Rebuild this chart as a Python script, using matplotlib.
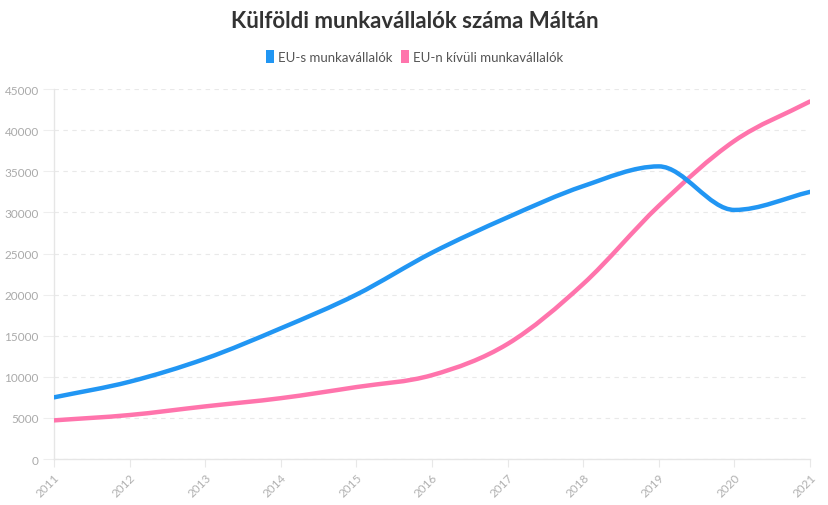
import numpy as np
import matplotlib.pyplot as plt
from matplotlib.path import Path
from matplotlib.patches import PathPatch, Patch

plt.rcParams['font.family'] = ['Lato', 'DejaVu Sans']

years = [2011, 2012, 2013, 2014, 2015, 2016, 2017, 2018, 2019, 2020, 2021]
eu_workers = [7500, 9400, 12200, 15900, 20000, 25100, 29400, 33200, 35600, 30300, 32500]
non_eu_workers = [4700, 5350, 6400, 7400, 8750, 10200, 14000, 21300, 30800, 38700, 43500]
labels = ['EU-s munkavállalók', 'EU-n kívüli munkavállalók']
colors = ['#2196f3', '#ff74ac']


# smooth line like chart.js monotone mode, drawn as bezier path through the points
def monotone_path(x, y):
    x = np.asarray(x, float)
    y = np.asarray(y, float)
    n = len(x)
    d = np.diff(y) / np.diff(x)
    m = np.zeros(n)
    m[0] = d[0]
    m[-1] = d[-1]
    for i in range(1, n - 1):
        if np.sign(d[i - 1]) != np.sign(d[i]):
            m[i] = 0
        else:
            m[i] = (d[i - 1] + d[i]) / 2
    for i in range(n - 1):
        if d[i] == 0:
            m[i] = m[i + 1] = 0
            continue
        a = m[i] / d[i]
        b = m[i + 1] / d[i]
        s = a * a + b * b
        if s > 9:
            t = 3 / np.sqrt(s)
            m[i] = t * a * d[i]
            m[i + 1] = t * b * d[i]
    verts = [(x[0], y[0])]
    codes = [Path.MOVETO]
    for i in range(n - 1):
        dx = (x[i + 1] - x[i]) / 3
        verts += [(x[i] + dx, y[i] + m[i] * dx),
                  (x[i + 1] - dx, y[i + 1] - m[i + 1] * dx),
                  (x[i + 1], y[i + 1])]
        codes += [Path.CURVE4] * 3
    return Path(verts, codes)


fig = plt.figure(figsize=(8.29, 5.06), dpi=100)
ax = fig.add_axes([0.0651, 0.0909, 0.912, 0.731])

for vals, c in zip([non_eu_workers, eu_workers], [colors[1], colors[0]]):
    ax.add_patch(PathPatch(monotone_path(years, vals), fill=False, edgecolor=c,
                           lw=3.2, capstyle='round', joinstyle='round', zorder=3))

ax.set_xlim(2011, 2021)
ax.set_ylim(0, 45000)
ax.set_xticks(years)
ax.set_xticklabels([str(y) for y in years], rotation=45, ha='right',
                   rotation_mode='anchor', fontsize=8.5, color='#b0b0b0')
ax.set_yticks(range(0, 45001, 5000))
ax.set_yticklabels([str(v) for v in range(0, 45001, 5000)], fontsize=8.5, color='#aaaaaa')
ax.tick_params(axis='x', length=6, color='#e8e8e8', pad=3)
ax.tick_params(axis='y', length=8, color='#eeeeee', pad=3)
ax.grid(axis='y', color='#e9e9e9', linestyle=(0, (4, 4)), lw=0.8)
for s in ['top', 'right']:
    ax.spines[s].set_visible(False)
for s in ['left', 'bottom']:
    ax.spines[s].set_color('#e6e6e6')
    ax.spines[s].set_linewidth(1)

fig.text(0.5, 0.957, 'Külföldi munkavállalók száma Máltán', ha='center', va='center',
         fontsize=16, fontweight='bold', color='#333333')

handles = [Patch(facecolor=c, edgecolor='none') for c in colors]
fig.legend(handles, labels, loc='center', bbox_to_anchor=(0.5, 0.886), ncol=2,
           frameon=False, fontsize=9.5, handlelength=0.6, handleheight=1.1,
           handletextpad=0.3, columnspacing=0.7, labelcolor='#555555')

fig.savefig('out.png', dpi=100)
